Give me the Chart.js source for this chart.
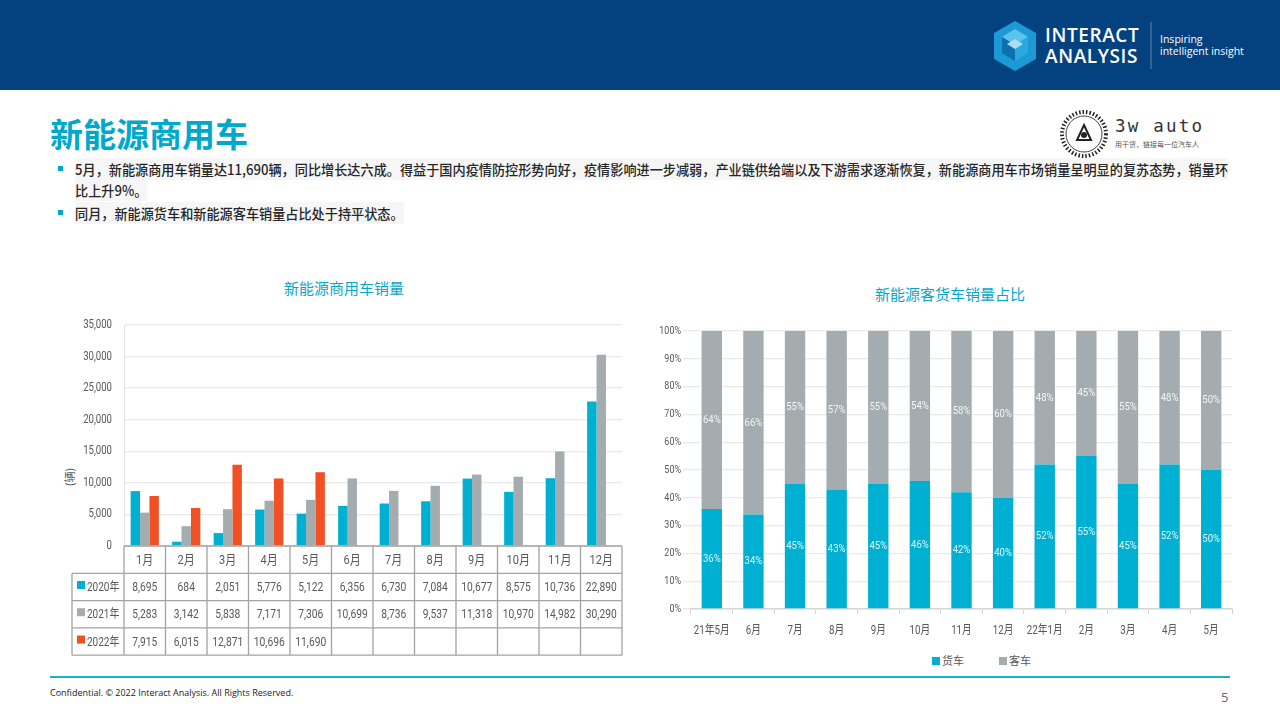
<!DOCTYPE html>
<html>
<head>
<meta charset="utf-8">
<script src="https://cdn.jsdelivr.net/npm/chart.js@4/dist/chart.umd.min.js"></script>
<style>
  html, body { margin: 0; padding: 0; }
  body { width: 1280px; height: 720px; position: relative; overflow: hidden; background: #fff;
         font-family: 'Noto Sans CJK SC', 'Noto Sans', sans-serif; }
  .abs { position: absolute; }
  #header { left: 0; top: 0; width: 1280px; height: 90px; background: #03417f; }
  #page-title { left: 50px; top: 111px; font-size: 33px; font-weight: 700; color: #00a9cc; line-height: 44px; }
  .bullet { position: absolute; left: 58px; width: 5px; height: 5px; background: #00a9cc; }
  .line { position: absolute; left: 75px; font-size: 14px; font-weight: 500; color: #262626;
          white-space: nowrap; line-height: 22px; background: #f6f6f6; transform-origin: 0 0; }
  .chart-title { position: absolute; font-size: 15px; color: #0aa6ca; transform: translateX(-50%); white-space: nowrap; }
  canvas { position: absolute; }
  #unit { left: 60px; top: 469px; font-size: 11px; color: #595959; transform: rotate(-90deg); }
  #legend { left: 932px; top: 652px; font-size: 11px; color: #595959; display: flex; }
  #legend span.box { display: inline-block; width: 8px; height: 8px; margin-right: 2px; }
  #footer-line { left: 50px; top: 676px; width: 1180px; height: 2px; background: #1aaed0; }
  #copyright { left: 50px; top: 686px; font-size: 9px; color: #222; font-family: 'Open Sans', sans-serif; }
  #page-no { left: 1221px; top: 688px; font-size: 13px; color: #666; font-family: 'Open Sans', sans-serif; }
</style>
</head>
<body>
<div id="header" class="abs">
  <svg class="abs" style="left:990px;top:18px" width="260" height="56" viewBox="0 0 260 56">
    <polygon points="25,3 46,15 46,41 25,53 4,41 4,15" fill="#1b9ad6"/>
    <polygon points="25,11 38,19 25,27 12,19" fill="#5cc3ea"/>
    <polygon points="12,19 25,27 25,43 12,35" fill="#0d6fb0"/>
    <polygon points="38,19 25,27 25,43 38,35" fill="#2aa9df"/>
    <polygon points="17,26 25,31 33,26 25,21" fill="#a8def3"/>
    <text x="55" y="24" fill="#fff" font-family="Open Sans, sans-serif" font-size="19" font-weight="600" letter-spacing="0.6">INTERACT</text>
    <text x="55" y="45" fill="#fff" font-family="Open Sans, sans-serif" font-size="19" font-weight="600" letter-spacing="0.6">ANALYSIS</text>
    <line x1="161" y1="4" x2="161" y2="51" stroke="#5d86b3" stroke-width="1"/>
    <text x="170" y="25" fill="#fff" font-family="Open Sans, sans-serif" font-size="10.5">Inspiring</text>
    <text x="170" y="37" fill="#fff" font-family="Open Sans, sans-serif" font-size="10.5">intelligent insight</text>
  </svg>
</div>

<div id="page-title" class="abs">新能源商用车</div>
<svg class="abs" style="left:1058px;top:108px" width="160" height="52" viewBox="0 0 160 52">
  <circle cx="26" cy="26" r="22" fill="none" stroke="#222" stroke-width="4" stroke-dasharray="1.5 2"/>
  <circle cx="26" cy="26" r="18" fill="none" stroke="#444" stroke-width="1"/>
  <polygon points="26,17 33,32 19,32" fill="none" stroke="#222" stroke-width="2"/>
  <circle cx="26" cy="27" r="3" fill="#222"/>
  <text x="57" y="24" fill="#333" font-family="DejaVu Sans Mono, monospace" font-size="17.5" letter-spacing="2.2">3w auto</text>
  <text x="57" y="39" fill="#555" font-family="Noto Sans CJK SC, sans-serif" font-size="7">用干货，链接每一位汽车人</text>
</svg>

<div class="bullet" style="top:166px"></div>
<div class="line" id="line1" style="top:158px">5月，新能源商用车销量达11,690辆，同比增长达六成。得益于国内疫情防控形势向好，疫情影响进一步减弱，产业链供给端以及下游需求逐渐恢复，新能源商用车市场销量呈明显的复苏态势，销量环</div>
<div class="line" style="top:179px">比上升9%。</div>
<div class="bullet" style="top:210px"></div>
<div class="line" style="top:202px">同月，新能源货车和新能源客车销量占比处于持平状态。</div>

<div class="chart-title" style="left:344px;top:277px">新能源商用车销量</div>
<div class="chart-title" style="left:950px;top:283px">新能源客货车销量占比</div>
<div id="unit" class="abs">(辆)</div>

<canvas id="salesChart" width="590" height="345" style="left:40px;top:315px"></canvas>
<canvas id="shareChart" width="600" height="330" style="left:640px;top:320px"></canvas>

<div id="legend" class="abs"></div>

<div id="footer-line" class="abs"></div>
<div id="copyright" class="abs">Confidential. © 2022 Interact Analysis. All Rights Reserved.</div>
<div id="page-no" class="abs">5</div>

<script>
// --- data: NEV commercial vehicle sales (辆)
const months = ['1月', '2月', '3月', '4月', '5月', '6月', '7月', '8月', '9月', '10月', '11月', '12月'];
const yearLabels = ['2020年', '2021年', '2022年'];
const sales2020 = [8695, 684, 2051, 5776, 5122, 6356, 6730, 7084, 10677, 8575, 10736, 22890];
const sales2021 = [5283, 3142, 5838, 7171, 7306, 10699, 8736, 9537, 11318, 10970, 14982, 30290];
const sales2022 = [7915, 6015, 12871, 10696, 11690, null, null, null, null, null, null, null];

// --- data: truck / bus share (%)
const shareMonths = ['21年5月', '6月', '7月', '8月', '9月', '10月', '11月', '12月', '22年1月', '2月', '3月', '4月', '5月'];
const shareLabels = ['货车', '客车'];
const truckShare = [36, 34, 45, 43, 45, 46, 42, 40, 52, 55, 45, 52, 50];
const busShare = [64, 66, 55, 57, 55, 54, 58, 60, 48, 45, 55, 48, 50];

const yearColors = ['#00b0d2', '#a5acb0', '#f05024'];
const shareColors = ['#00b0d2', '#a5acb0'];
const NUM_FONT = "Roboto, 'Noto Sans CJK SC', sans-serif";
const textGray = '#595959';

Chart.defaults.font.family = NUM_FONT;
Chart.defaults.color = textGray;
Chart.defaults.animation = false;

const fmt = v => v.toLocaleString('en-US');

// the source uses a condensed face, so squeeze text horizontally
function squeezeText(ctx, text, x, y, align, sx) {
    ctx.save();
    ctx.translate(x, y);
    ctx.scale(sx, 1);
    ctx.textAlign = align;
    ctx.fillText(text, 0, 0);
    ctx.restore();
}

// tick labels, placed with the chart's own scales
const axisLabels = {
    id: 'axisLabels',
    afterDraw(chart, args, opts) {
        const ctx = chart.ctx;
        const xs = chart.scales.x, ys = chart.scales.y;
        ctx.save();
        ctx.fillStyle = textGray;
        ctx.textBaseline = 'middle';
        ctx.font = opts.yFont;
        ys.ticks.forEach((t, i) => squeezeText(ctx, t.label, ys.right - opts.yGap, ys.getPixelForTick(i), 'right', opts.squeeze));
        if (opts.xFont) {
            ctx.font = opts.xFont;
            xs.ticks.forEach((t, i) => squeezeText(ctx, t.label, xs.getPixelForTick(i), xs.top + opts.xGap, 'center', opts.squeeze));
        }
        ctx.restore();
    }
};

// draws the data table under the sales chart, using the x scale for column positions
const salesTable = {
    id: 'salesTable',
    afterDraw(chart) {
        const ctx = chart.ctx;
        const xs = chart.scales.x;
        const top = chart.chartArea.bottom;
        const rowH = 27.3;
        const tableLeft = 32;
        const n = months.length;
        const w = (xs.right - xs.left) / n;
        const rows = [sales2020, sales2021, sales2022];

        ctx.save();
        ctx.strokeStyle = '#a3a3a3';
        ctx.lineWidth = 1.3;
        ctx.beginPath();
        ctx.moveTo(xs.left, top); ctx.lineTo(xs.right, top);
        for (let r = 1; r <= 4; r++) {
            ctx.moveTo(tableLeft, top + r * rowH);
            ctx.lineTo(xs.right, top + r * rowH);
        }
        for (let i = 0; i <= n; i++) {
            const x = xs.left + i * w;
            ctx.moveTo(x, top); ctx.lineTo(x, top + 4 * rowH);
        }
        ctx.moveTo(tableLeft, top + rowH); ctx.lineTo(tableLeft, top + 4 * rowH);
        ctx.stroke();

        ctx.fillStyle = textGray;
        ctx.textBaseline = 'middle';
        ctx.font = '13px ' + NUM_FONT;
        months.forEach((m, i) => squeezeText(ctx, m, xs.getPixelForValue(i), top + rowH / 2 + 1, 'center', 0.85));

        ctx.font = '12.5px ' + NUM_FONT;
        rows.forEach((vals, r) => {
            const cy = top + (r + 1.5) * rowH + 1;
            ctx.fillStyle = yearColors[r];
            ctx.fillRect(tableLeft + 5, cy - 7, 8, 8);
            ctx.fillStyle = textGray;
            squeezeText(ctx, yearLabels[r], tableLeft + 15, cy, 'left', 0.8);
            vals.forEach((v, i) => {
                if (v != null) squeezeText(ctx, fmt(v), xs.getPixelForValue(i), cy, 'center', 0.82);
            });
        });
        ctx.restore();
    }
};

// percentage labels in the middle of each stacked segment
const segmentLabels = {
    id: 'segmentLabels',
    afterDatasetsDraw(chart) {
        const ctx = chart.ctx;
        ctx.save();
        ctx.font = '11.5px ' + NUM_FONT;
        ctx.fillStyle = 'rgba(255,255,255,0.88)';
        ctx.textBaseline = 'middle';
        chart.data.datasets.forEach((ds, d) => {
            chart.getDatasetMeta(d).data.forEach((bar, i) => {
                squeezeText(ctx, ds.data[i] + '%', bar.x, (bar.y + bar.base) / 2, 'center', 0.83);
            });
        });
        ctx.restore();
    }
};

new Chart(document.getElementById('salesChart'), {
    type: 'bar',
    data: {
        labels: months,
        datasets: [sales2020, sales2021, sales2022].map((data, i) => ({
            label: yearLabels[i],
            data: data,
            backgroundColor: yearColors[i],
            categoryPercentage: 0.68,
            barPercentage: 1.0
        }))
    },
    options: {
        responsive: false,
        layout: { padding: { top: 10, right: 8, bottom: 5, left: 0 } },
        plugins: {
            legend: { display: false },
            tooltip: { enabled: false },
            axisLabels: { yFont: '12px ' + NUM_FONT, yGap: 12, squeeze: 0.8 }
        },
        scales: {
            x: {
                grid: { display: false },
                border: { display: false },
                ticks: { display: false },
                afterFit(scale) { scale.height = 109; }
            },
            y: {
                min: 0,
                max: 35000,
                ticks: { display: false, stepSize: 5000, callback: v => fmt(v) },
                grid: { color: '#e9e9e9', lineWidth: 1.3, drawTicks: false },
                border: { color: '#e3e3e3' },
                afterFit(scale) { scale.width = 84; }
            }
        }
    },
    plugins: [axisLabels, salesTable]
});

new Chart(document.getElementById('shareChart'), {
    type: 'bar',
    data: {
        labels: shareMonths,
        datasets: [truckShare, busShare].map((data, i) => ({
            label: shareLabels[i],
            data: data,
            backgroundColor: shareColors[i],
            categoryPercentage: 0.5,
            barPercentage: 0.98
        }))
    },
    options: {
        responsive: false,
        layout: { padding: { top: 11, right: 8, bottom: 1, left: 0 } },
        plugins: {
            legend: { display: false },
            tooltip: { enabled: false },
            axisLabels: { yFont: '11.5px ' + NUM_FONT, yGap: 10, xFont: '12.5px ' + NUM_FONT, xGap: 22, squeeze: 0.78 }
        },
        scales: {
            x: {
                stacked: true,
                grid: { drawOnChartArea: false, color: '#d6d6d6', tickLength: 5 },
                border: { color: '#d6d6d6', width: 1.5 },
                ticks: { display: false, autoSkip: false, maxRotation: 0 },
                afterFit(scale) { scale.height = 40; }
            },
            y: {
                stacked: true,
                min: 0,
                max: 100,
                ticks: { display: false, stepSize: 10, callback: v => v + '%' },
                grid: { color: '#e9e9e9', lineWidth: 1.3, tickLength: 8 },
                border: { display: false },
                afterFit(scale) { scale.width = 51; }
            }
        }
    },
    plugins: [axisLabels, segmentLabels]
});

// legend for the share chart
document.getElementById('legend').innerHTML = shareLabels.map((l, i) =>
    `<span style="margin-right:35px"><span class="box" style="background:${shareColors[i]}"></span>${l}</span>`
).join('');

// fit the bullet text to the width the first line has in the source
const lineScale = 1153 / document.getElementById('line1').scrollWidth;
document.querySelectorAll('.line').forEach(el => { el.style.transform = `scaleX(${lineScale})`; });
</script>
</body>
</html>
